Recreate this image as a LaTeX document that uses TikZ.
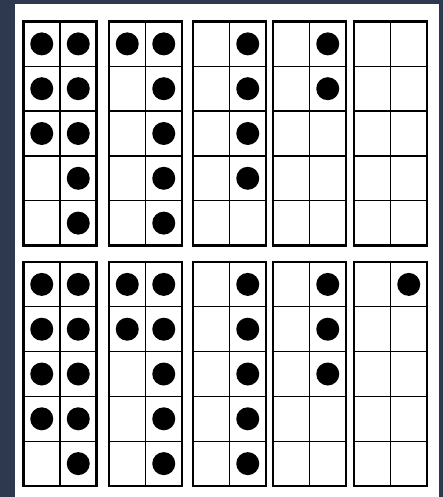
\documentclass[tikz,border=0pt]{standalone}
\usetikzlibrary{calc}
\definecolor{slatebg}{RGB}{46,56,78}

\begin{document}
\begin{tikzpicture}[
        x=1pt, y=-1pt,
        frame/.style={draw, line width=2.4pt},
        cellline/.style={draw, line width=1.3pt},
        dot/.style={fill=black}
    ]
        % Background and paper
        \fill[slatebg] (0,0) rectangle (443,497);
        \fill[white] (15,4) rectangle (438.5,497);
        \useasboundingbox (0,0) rectangle (443,497);

        % Ten-frames: left x / top y / dots in left column / dots in right column
        \foreach \fx/\fy/\nl/\nr in {23.5/21.5/3/5, 109/21.5/1/5, 193/21.5/0/4, 273/21.5/0/2, 354/21.5/0/0,
                                    23.5/262/4/5, 109/262/2/5, 193/262/0/5, 273/262/0/3, 354/262/0/1}{
            \foreach \r in {1,...,4}
                \draw[cellline] (\fx,\fy+\r*44.8) -- ++(73,0);
            \draw[cellline] (\fx+36.5,\fy) -- ++(0,224);
            \draw[frame] (\fx,\fy) rectangle ++(73,224);
            % Counters
            \foreach \r in {1,...,5}{
                \ifnum\r>\nl\else
                    \fill[dot] (\fx+18.25,\fy+\r*44.8-22.4) circle (11.5pt);
                \fi
                \ifnum\r>\nr\else
                    \fill[dot] (\fx+54.75,\fy+\r*44.8-22.4) circle (11.5pt);
                \fi
            }
        }
    \end{tikzpicture}
\end{document}
